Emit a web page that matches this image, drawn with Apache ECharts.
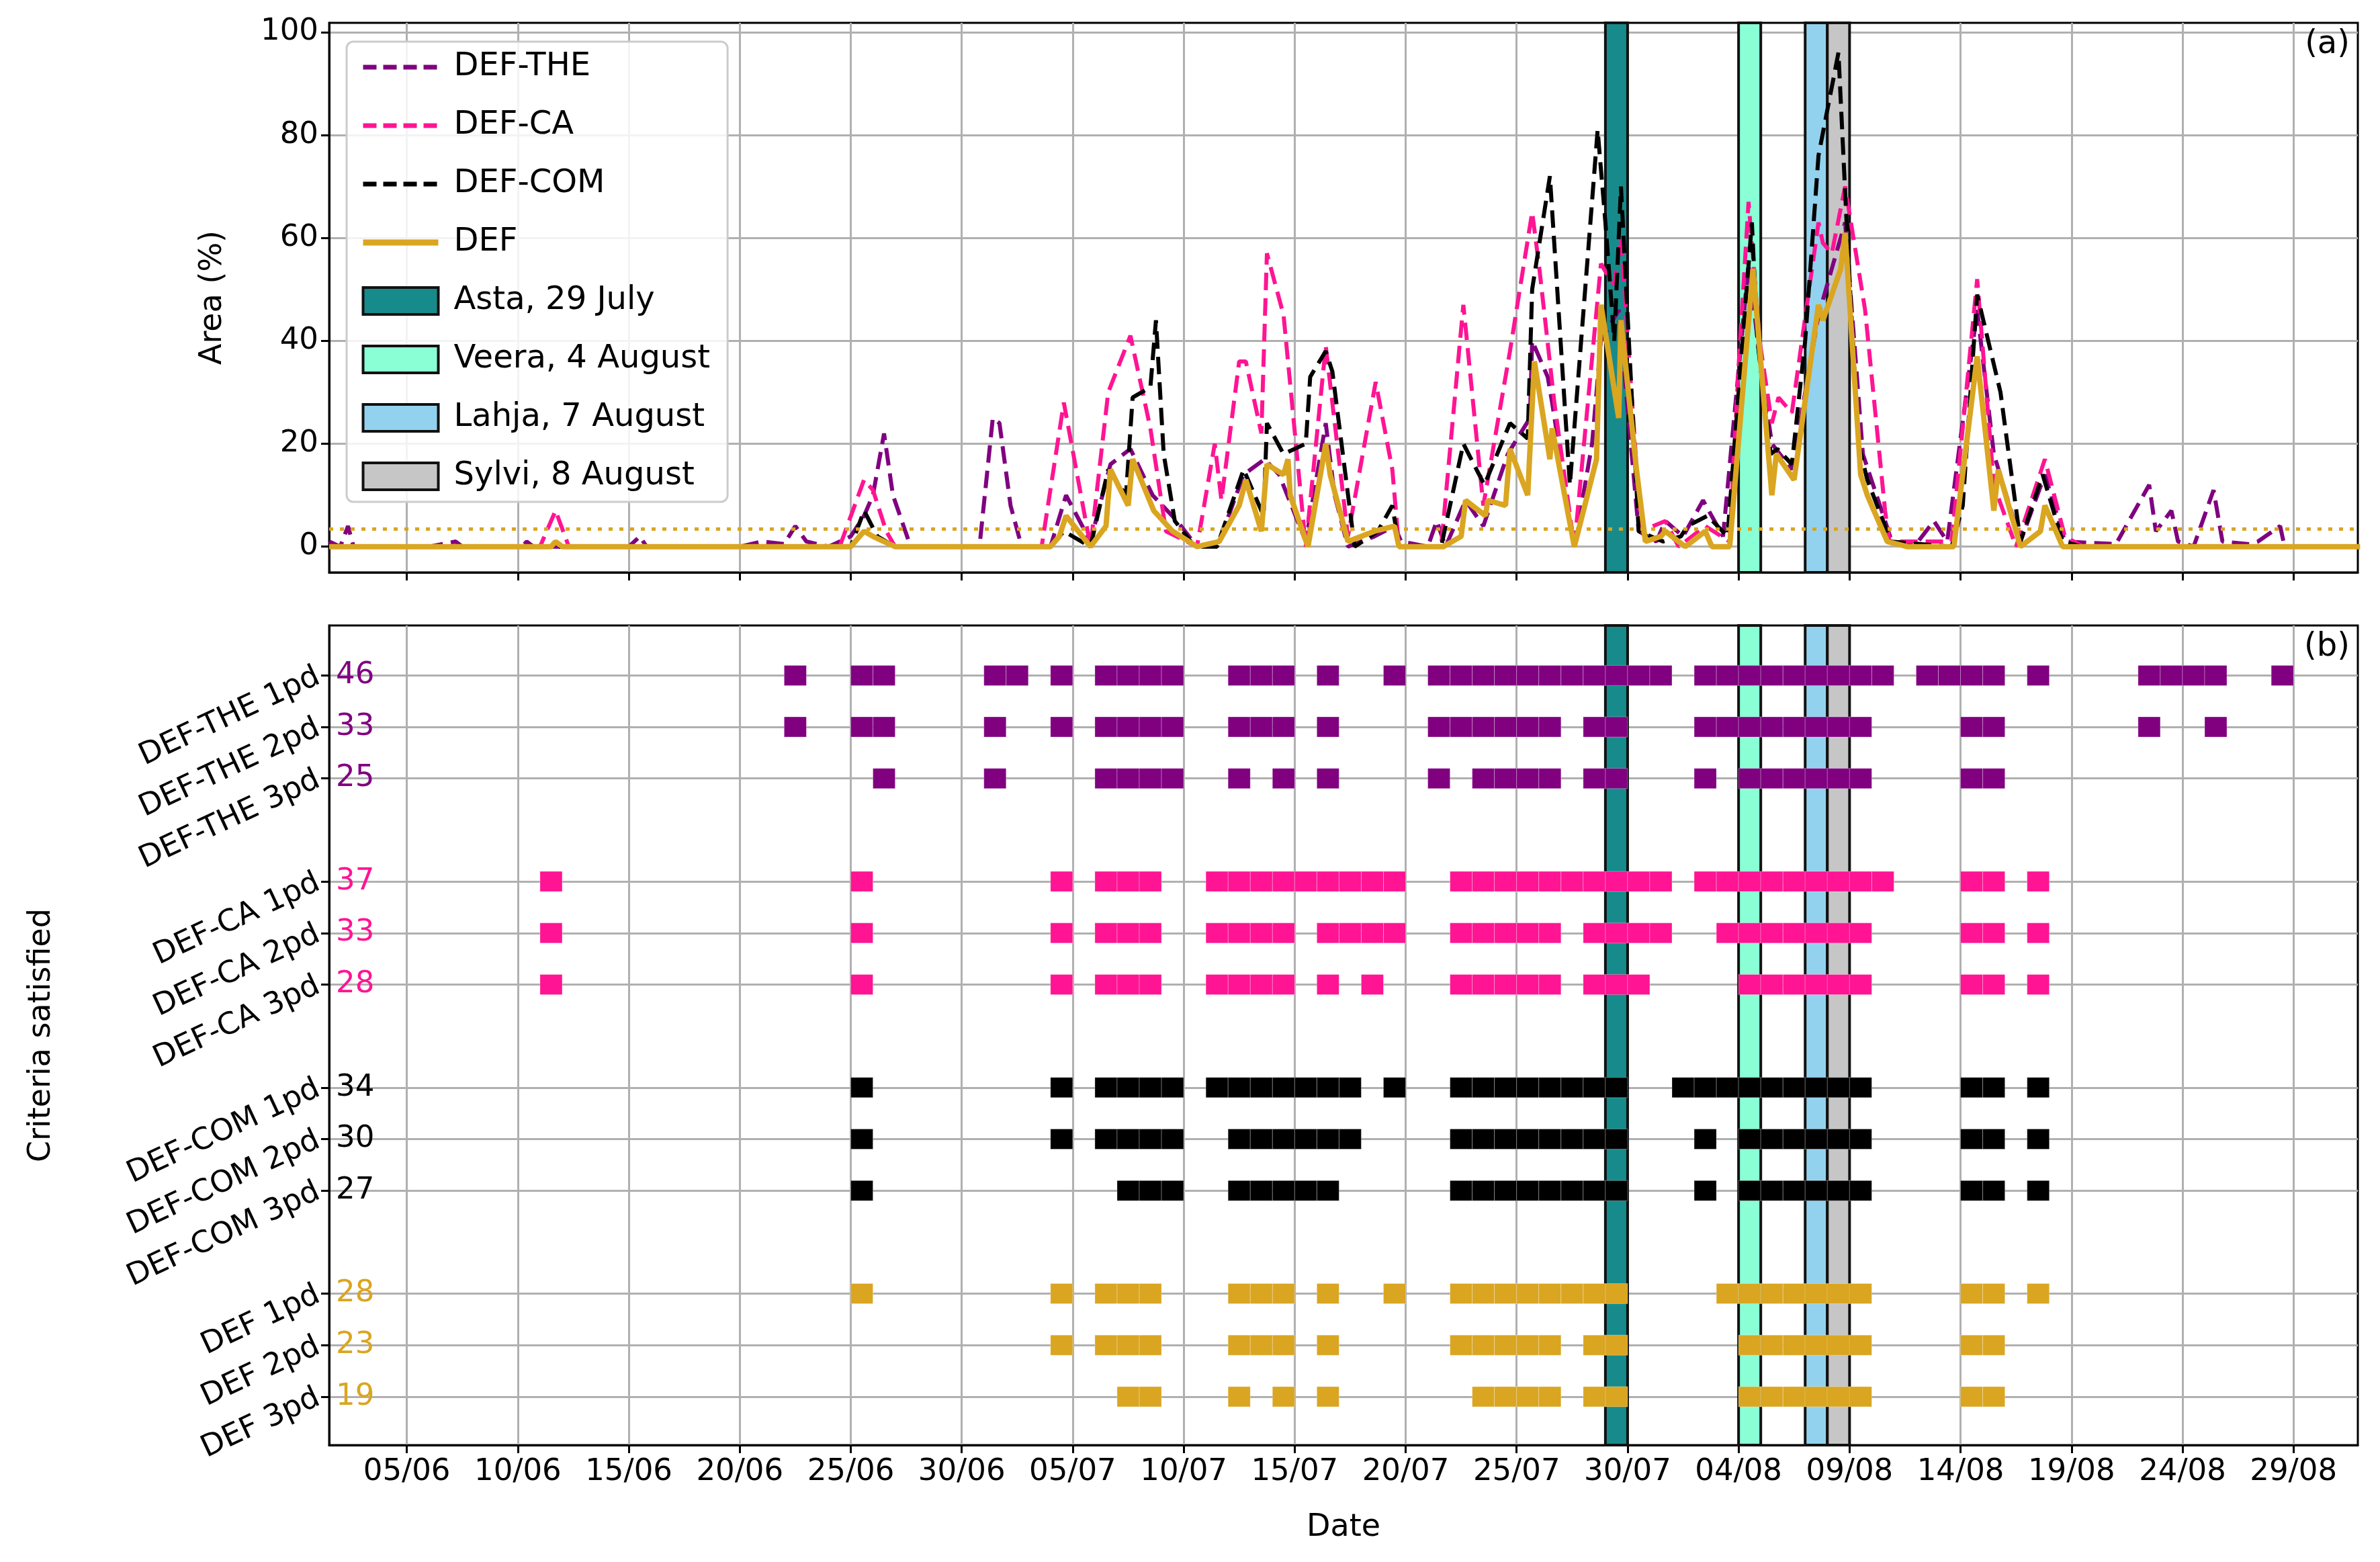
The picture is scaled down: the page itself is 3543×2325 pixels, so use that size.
<!DOCTYPE html>
<html>
<head>
<meta charset="utf-8">
<script src="https://cdn.jsdelivr.net/npm/echarts@6/dist/echarts.min.js"></script>
<style>html,body{margin:0;padding:0;background:#fff}#chart{width:3543px;height:2325px}</style>
</head>
<body>
<div id="chart"></div>
<script>
// day numbers: 0 = 1 June
var xTicks = [4, 9, 14, 19, 24, 29, 34, 39, 44, 49, 54, 59, 64, 69, 74, 79, 84, 89];
var yTicksTop = [0, 20, 40, 60, 80, 100];

// [day, area %]
var defThe = [[0.5,1],[1,0],[1.35,4],[1.6,0],[3,0],[5,0],[6.2,1],[6.5,0],[9.2,0],[9.4,1],[9.7,0],[14,0],[14.5,2],[14.8,0],[19,0],[20,1],[21,0.5],[21.5,4],[22,1],[23,0],[24,2],[24.6,6],[25,10],[25.5,22],[25.9,10],[26.7,0],[29.8,0],[30.4,25],[30.7,24],[31.2,8],[31.7,0],[33,0],[33.7,10],[34.8,1],[35.7,16],[36.6,19],[37.6,10],[38.7,5],[39.6,0],[40.6,1],[41.7,14],[42.65,17],[43.3,14],[44.5,1],[45.4,24],[45.8,10],[46.4,0],[47.6,2],[48.5,4],[48.8,1],[50,0],[50.4,5],[50.8,0],[51.7,9],[52.5,4],[53.6,18],[54.6,25],[54.7,40],[55.4,33],[55.6,28],[56.6,0],[57.4,20],[57.8,40],[58.6,46],[59.5,3],[60.3,1],[60.7,5],[61.5,2],[62.4,9],[63.3,2],[64.45,55],[65,35],[65.5,20],[66.4,15],[67.6,45],[68.8,63],[69.6,18],[70.6,5],[70.9,1],[72,0.5],[72.8,5],[73.4,1],[74.75,46],[75.5,18],[76.7,1],[77.8,14],[78.7,1],[81,0.5],[82.5,12],[82.8,3],[83.5,7],[83.8,1],[84.5,0],[85.4,11],[85.8,1],[87,0.5],[87.4,1],[88.4,4],[88.6,0],[92,0]];
var defCa = [[0.5,0],[10,0],[10.7,7],[11.3,0],[23.5,0],[24.6,13],[25,11],[25.6,3],[26,0],[32.6,0],[33.6,28],[34.8,0],[35.6,30],[36.6,41],[37.5,23],[38.2,3],[39.6,0],[40.4,20],[40.7,9],[41.5,36],[41.8,36],[42.5,22],[42.75,57],[43.5,45],[44.5,0],[45.4,39],[46.4,2],[47.65,32],[48.4,15],[48.7,0],[50.6,0],[51.6,47],[52.5,8],[53.7,38],[54.7,65],[55,55],[55.7,28],[56.6,0],[57.8,55],[58.2,52],[58.4,51],[58.7,60],[59.6,3],[60.7,5],[61.3,0],[62.5,4],[63.6,1],[64,35],[64.45,67],[64.95,40],[65.5,24],[65.8,29],[66.4,26],[67.6,63],[67.8,59],[68.2,57],[68.8,70],[69.7,46],[70.6,7],[70.8,1],[73.6,1],[74.75,52],[75.5,12],[76.5,0],[77.8,17],[78.7,2],[79.5,0],[92,0]];
var defCom = [[0.5,0],[24,0],[24.6,7],[25.2,2],[26,0],[33,0],[33.6,3],[34.8,0],[35.6,15],[36.4,10],[36.7,29],[37.5,31],[37.75,44],[38.1,18],[38.6,5],[39.5,0],[40.5,0],[41.7,15],[42.6,6],[42.75,24],[43.5,18],[44.5,20],[44.7,33],[45.4,38],[45.7,34],[46.7,0],[47.75,3],[48.4,8],[48.7,0],[50.6,0],[51.6,20],[52.55,12],[53.7,24],[54.5,21],[54.7,50],[55.5,72],[56.4,12],[57.65,81],[58,63],[58.4,40],[58.7,70],[59.5,3],[60.6,1],[61.4,2],[61.7,4],[62.6,6],[63.5,2],[64,30],[64.6,63],[64.85,40],[65.45,18],[65.75,19],[66.4,16],[67,40],[67.6,76],[68.5,96],[68.9,60],[69.4,20],[69.8,13],[70.6,4],[70.8,1],[73.6,0],[74.1,8],[74.75,49],[75.8,30],[76.7,1],[77.7,14],[78.6,1],[79.5,0],[92,0]];
var defMain = [[0.5,0],[10.5,0],[10.7,1],[11,0],[24,0],[24.6,3],[25,2],[25.5,1],[26,0],[33,0],[33.4,2],[33.7,6],[34.8,0],[35.5,4],[35.7,15],[36.5,8],[36.7,17],[37.65,7],[38.5,3],[39.6,0],[40.6,1],[41.5,8],[41.8,13],[42.5,3],[42.75,16],[43.5,14],[43.7,17],[43.8,10],[44.6,0],[45.4,20],[45.6,14],[46.4,1],[47.6,3],[48.5,4],[48.7,0],[50.7,0],[51.5,2],[51.7,9],[52.6,6],[52.7,9],[53.5,8],[53.7,19],[54.5,10],[54.8,36],[55.5,17],[55.6,23],[56.6,0],[57.6,17],[57.8,47],[58.6,25],[58.7,44],[59.4,15],[59.8,1],[60.5,2],[60.7,3],[61.6,0],[62.5,3],[62.8,0],[63.6,0],[64.65,54],[65.5,10],[65.7,18],[66.5,13],[67.6,47],[67.8,44],[68.6,54],[68.8,61],[69.5,14],[69.8,10],[70.7,1],[71.6,0],[73.7,0],[74.75,37],[75.5,7],[75.7,15],[76.7,0],[77.6,3],[77.8,8],[78.6,0],[92,0]];
var threshold = 3.5;

var storms = ['Asta, 29 July', 'Veera, 4 August', 'Lahja, 7 August', 'Sylvi, 8 August'];
var stormDays = [58, 64, 67, 68];
var stormColors = ['#178b8b', '#8affd6', '#93d2ee', '#c6c6c6'];

// criteria rows (days satisfied)
var rowNames = ['DEF-THE 1pd','DEF-THE 2pd','DEF-THE 3pd','DEF-CA 1pd','DEF-CA 2pd','DEF-CA 3pd','DEF-COM 1pd','DEF-COM 2pd','DEF-COM 3pd','DEF 1pd','DEF 2pd','DEF 3pd'];
var rowPos = [0, 1, 2, 4, 5, 6, 8, 9, 10, 12, 13, 14];
var rowCounts = [46, 33, 25, 37, 33, 28, 34, 30, 27, 28, 23, 19];
var rowDays = [
  [21,24,25,30,31,33,35,36,37,38,41,42,43,45,48,50,51,52,53,54,55,56,57,58,59,60,62,63,64,65,66,67,68,69,70,72,73,74,75,77,82,83,84,85,88],
  [21,24,25,30,33,35,36,37,38,41,42,43,45,50,51,52,53,54,55,57,58,62,63,64,65,66,67,68,69,74,75,82,85],
  [25,30,35,36,37,38,41,43,45,50,52,53,54,55,57,58,62,64,65,66,67,68,69,74,75],
  [10,24,33,35,36,37,40,41,42,43,44,45,46,47,48,51,52,53,54,55,56,57,58,59,60,62,63,64,65,66,67,68,69,70,74,75,77],
  [10,24,33,35,36,37,40,41,42,43,45,46,47,48,51,52,53,54,55,57,58,59,60,63,64,65,66,67,68,69,74,75,77],
  [10,24,33,35,36,37,40,41,42,43,45,47,51,52,53,54,55,57,58,59,64,65,66,67,68,69,74,75,77],
  [24,33,35,36,37,38,40,41,42,43,44,45,46,48,51,52,53,54,55,56,57,58,61,62,63,64,65,66,67,68,69,74,75,77],
  [24,33,35,36,37,38,41,42,43,44,45,46,51,52,53,54,55,56,57,58,62,64,65,66,67,68,69,74,75,77],
  [24,36,37,38,41,42,43,44,45,51,52,53,54,55,56,57,58,62,64,65,66,67,68,69,74,75,77],
  [24,33,35,36,37,41,42,43,45,48,51,52,53,54,55,56,57,58,63,64,65,66,67,68,69,74,75,77],
  [33,35,36,37,41,42,43,45,51,52,53,54,55,57,58,64,65,66,67,68,69,74,75],
  [36,37,41,43,45,52,53,54,55,57,58,64,65,66,67,68,69,74,75]
];
var groupColors = ['#800080', '#ff1493', '#000000', '#daa520'];

var FONT = 'DejaVu Sans';
var GRIDC = '#b0b0b0';

function pad(n) { return (n < 10 ? '0' : '') + n; }
function dayLabel(t) {
    var d = new Date(Date.UTC(2023, 5, 1) + t * 864e5);
    return pad(d.getUTCDate()) + '/' + pad(d.getUTCMonth() + 1);
}

var chart = echarts.init(document.getElementById('chart'));

function xAxisDef(gi, showLabels) {
    return {
        type: 'value', gridIndex: gi, min: 0.5, max: 91.9,
        axisLine: { show: true, onZero: false, lineStyle: { color: '#000', width: 3 } },
        axisTick: { show: true, length: 12, customValues: xTicks, lineStyle: { color: '#000', width: 3 } },
        axisLabel: { show: showLabels, customValues: xTicks, formatter: dayLabel, fontFamily: FONT, fontSize: 45, color: '#000', margin: 18 },
        splitLine: { show: true, lineStyle: { color: GRIDC, width: 3 } },
        name: showLabels ? 'Date' : '', nameLocation: 'middle', nameGap: 100,
        nameTextStyle: { fontFamily: FONT, fontSize: 46, color: '#000' }
    };
}

var series = [];

// storm bands in both panels
storms.forEach(function (s, i) {
    [0, 1].forEach(function (gi) {
        series.push({
            name: s, type: 'line', xAxisIndex: gi, yAxisIndex: gi, data: [], z: 1,
            itemStyle: { color: stormColors[i] },
            markArea: {
                silent: true,
                itemStyle: { color: stormColors[i], opacity: 1, borderColor: '#111', borderWidth: 4 },
                data: [[{ xAxis: stormDays[i] }, { xAxis: stormDays[i] + 1 }]]
            }
        });
    });
});

function lineSeries(name, data, color, dashed, w) {
    return {
        name: name, type: 'line', xAxisIndex: 0, yAxisIndex: 0, data: data, z: 3,
        symbol: 'none', animation: false,
        lineStyle: { color: color, width: w, type: dashed ? [26, 12] : 'solid' },
        itemStyle: { color: color }
    };
}
series.push(lineSeries('DEF-THE', defThe, '#800080', true, 6));
series.push(lineSeries('DEF-CA', defCa, '#ff1493', true, 6));
series.push(lineSeries('DEF-COM', defCom, '#000000', true, 6));
var defS = lineSeries('DEF', defMain, '#daa520', false, 8);
defS.markLine = {
    silent: true, symbol: 'none', label: { show: false },
    lineStyle: { color: '#daa520', type: [6, 10], width: 5 },
    data: [{ yAxis: threshold }]
};
series.push(defS);

// criteria cells
rowDays.forEach(function (days, r) {
    var col = groupColors[Math.floor(r / 3)];
    series.push({
        type: 'custom', xAxisIndex: 1, yAxisIndex: 1, z: 3, clip: true,
        data: days.map(function (d) { return [d, rowPos[r]]; }),
        renderItem: function (params, api) {
            var p0 = api.coord([api.value(0), api.value(1)]);
            var p1 = api.coord([api.value(0) + 1, api.value(1)]);
            return {
                type: 'rect',
                shape: { x: p0[0], y: p0[1] - 15, width: p1[0] - p0[0], height: 30 },
                style: { fill: col, stroke: 'rgba(255,255,255,0.3)', lineWidth: 1 }
            };
        }
    });
});

function legendLine(name, color, dashed, w) {
    return { name: name, itemStyle: { opacity: 0 }, lineStyle: { color: color, width: w, type: dashed ? [20, 10] : 'solid', opacity: 1 } };
}

var option = {
    animation: false,
    backgroundColor: '#fff',
    title: [
        { text: '(a)', right: 40, top: 38, textStyle: { fontFamily: FONT, fontSize: 48, fontWeight: 'normal', color: '#000' } },
        { text: '(b)', right: 40, top: 935, textStyle: { fontFamily: FONT, fontSize: 48, fontWeight: 'normal', color: '#000' } }
    ],
    grid: [
        { left: 490, right: 33, top: 34, height: 818, show: true, borderColor: '#000', borderWidth: 3, backgroundColor: 'transparent' },
        { left: 490, right: 33, top: 931, height: 1220, show: true, borderColor: '#000', borderWidth: 3, backgroundColor: 'transparent' }
    ],
    legend: {
        orient: 'vertical', left: 516, top: 62,
        itemWidth: 112, itemHeight: 40, itemGap: 39,
        padding: [14, 26, 14, 20],
        backgroundColor: 'rgba(255,255,255,0.85)', borderColor: '#cccccc', borderWidth: 3, borderRadius: 10,
        textStyle: { fontFamily: FONT, fontSize: 48, color: '#000', padding: [0, 0, 0, 18] },
        data: [
            legendLine('DEF-THE', '#800080', true, 7),
            legendLine('DEF-CA', '#ff1493', true, 7),
            legendLine('DEF-COM', '#000000', true, 7),
            legendLine('DEF', '#daa520', false, 9)
        ].concat(storms.map(function (s, i) {
            return { name: s, icon: 'rect', itemStyle: { color: stormColors[i], borderColor: '#111', borderWidth: 4 } };
        }))
    },
    xAxis: [xAxisDef(0, false), xAxisDef(1, true)],
    yAxis: [
        {
            type: 'value', gridIndex: 0, min: -5, max: 101.8, position: 'left',
            axisLine: { show: true, lineStyle: { color: '#000', width: 3 } },
            axisTick: { show: true, length: 12, customValues: yTicksTop, lineStyle: { color: '#000', width: 3 } },
            axisLabel: { customValues: yTicksTop, fontFamily: FONT, fontSize: 45, color: '#000', margin: 16 },
            splitLine: { show: true, lineStyle: { color: GRIDC, width: 3 } },
            name: 'Area (%)', nameLocation: 'middle', nameGap: 150,
            nameTextStyle: { fontFamily: FONT, fontSize: 46, color: '#000' }
        },
        {
            type: 'value', gridIndex: 1, min: -0.97, max: 14.94, inverse: true, position: 'left',
            axisLine: { show: true, lineStyle: { color: '#000', width: 3 } },
            axisTick: { show: true, length: 12, customValues: rowPos, lineStyle: { color: '#000', width: 3 } },
            axisLabel: {
                customValues: rowPos, rotate: 25, fontFamily: FONT, fontSize: 45, color: '#000', margin: 16,
                formatter: function (v) { return rowNames[rowPos.indexOf(v)] || ''; }
            },
            splitLine: { show: true, lineStyle: { color: GRIDC, width: 3 } },
            name: 'Criteria satisfied', nameLocation: 'middle', nameGap: 405,
            nameTextStyle: { fontFamily: FONT, fontSize: 46, color: '#000' }
        },
        {
            type: 'value', gridIndex: 1, min: -0.97, max: 14.94, inverse: true, position: 'left', offset: 0,
            axisLine: { show: false }, axisTick: { show: false }, splitLine: { show: false },
            axisLabel: {
                inside: true, customValues: rowPos, margin: 10, fontFamily: FONT, fontSize: 45,
                formatter: function (v) {
                    var i = rowPos.indexOf(v);
                    return i < 0 ? '' : '{g' + Math.floor(i / 3) + '|' + rowCounts[i] + '}';
                },
                rich: {
                    g0: { color: groupColors[0], fontFamily: FONT, fontSize: 45 },
                    g1: { color: groupColors[1], fontFamily: FONT, fontSize: 45 },
                    g2: { color: groupColors[2], fontFamily: FONT, fontSize: 45 },
                    g3: { color: groupColors[3], fontFamily: FONT, fontSize: 45 }
                }
            }
        }
    ],
    series: series
};

chart.setOption(option);
</script>
</body>
</html>
